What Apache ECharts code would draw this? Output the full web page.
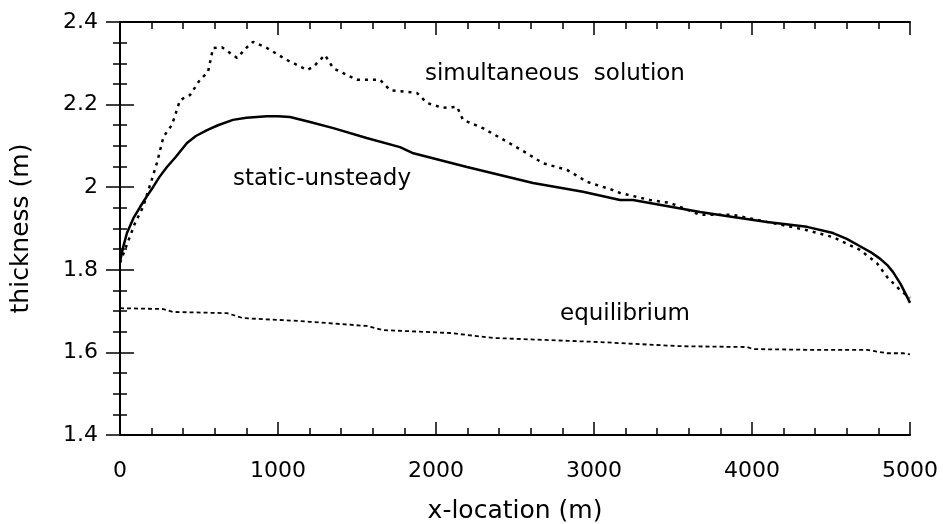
<!DOCTYPE html>
<html>
<head>
<meta charset="utf-8">
<script src="https://cdn.jsdelivr.net/npm/echarts@6/dist/echarts.min.js"></script>
<style>
  html, body { margin: 0; padding: 0; background: #fff; }
  #chart { width: 943px; height: 524px; }
</style>
</head>
<body>
<div id="chart"></div>
<script>
// x-location (m), thickness (m)
const simultaneousX = [0, 95, 146, 200, 234, 275, 329, 380, 443, 506, 557, 589, 645, 741, 804, 842, 930, 1057, 1184, 1222, 1297, 1350, 1500, 1646, 1709, 1816, 1880, 1943, 2044, 2133, 2171, 2297, 2449, 2576, 2677, 2829, 2956, 3120, 3165, 3354, 3481, 3671, 3880, 4095, 4348, 4513, 4684, 4791, 4854, 4937, 5000]
const simultaneousY = [1.817, 1.913, 1.952, 2.017, 2.059, 2.122, 2.151, 2.211, 2.223, 2.260, 2.279, 2.337, 2.339, 2.313, 2.339, 2.352, 2.337, 2.308, 2.284, 2.291, 2.320, 2.288, 2.260, 2.260, 2.235, 2.231, 2.228, 2.204, 2.192, 2.195, 2.163, 2.143, 2.110, 2.082, 2.058, 2.042, 2.013, 1.993, 1.986, 1.969, 1.962, 1.933, 1.933, 1.916, 1.896, 1.879, 1.848, 1.816, 1.783, 1.751, 1.732]

const staticX = [0, 20, 44, 85, 127, 170, 209, 250, 297, 350, 424, 480, 551, 620, 715, 800, 930, 1000, 1076, 1203, 1350, 1561, 1772, 1857, 2196, 2614, 2930, 3165, 3247, 3671, 3880, 4095, 4348, 4513, 4600, 4684, 4750, 4810, 4860, 4892, 4940, 4981, 5000]
const staticY = [1.819, 1.855, 1.889, 1.925, 1.952, 1.978, 2.000, 2.025, 2.049, 2.072, 2.107, 2.124, 2.138, 2.150, 2.163, 2.168, 2.172, 2.172, 2.170, 2.158, 2.143, 2.119, 2.097, 2.082, 2.049, 2.010, 1.989, 1.969, 1.969, 1.940, 1.928, 1.916, 1.904, 1.889, 1.875, 1.857, 1.843, 1.827, 1.810, 1.795, 1.766, 1.735, 1.720]

const equilibriumX = [0, 275, 335, 677, 779, 1139, 1203, 1561, 1665, 2089, 2361, 3038, 3544, 3968, 4006, 4411, 4728, 4854, 4956, 5000]
const equilibriumY = [1.707, 1.705, 1.698, 1.695, 1.683, 1.676, 1.674, 1.664, 1.654, 1.647, 1.635, 1.625, 1.615, 1.613, 1.608, 1.606, 1.606, 1.598, 1.598, 1.595]

const pairs = (xs, ys) => xs.map((x, i) => [x, ys[i]])

const font = 'DejaVu Sans'
const tickStyle = { color: '#000', fontSize: 22, fontFamily: font }
const nameStyle = { color: '#000', fontSize: 25, fontFamily: font }
const noteFont = '23px "DejaVu Sans"'

const chart = echarts.init(document.getElementById('chart'))

const baseX = {
  type: 'value',
  min: 0,
  max: 5000,
  interval: 1000,
  axisLine: { lineStyle: { color: '#000', width: 2 } },
  axisTick: { inside: true, length: 13, lineStyle: { color: '#000', width: 1.5 } },
  minorTick: { show: true, splitNumber: 5, length: 7, lineStyle: { color: '#000', width: 1.5 } },
  splitLine: { show: false }
}
const baseY = {
  type: 'value',
  min: 1.4,
  max: 2.4,
  interval: 0.2,
  axisLine: { lineStyle: { color: '#000', width: 2 } },
  axisTick: { inside: true, length: 14, lineStyle: { color: '#000', width: 1.5 } },
  minorTick: { show: true, splitNumber: 4, length: 7, lineStyle: { color: '#000', width: 1.5 } },
  splitLine: { show: false }
}

chart.setOption({
  animation: false,
  backgroundColor: '#fff',
  grid: { left: 120, right: 33, top: 22, bottom: 89, containLabel: false, outerBoundsMode: 'none' },
  xAxis: [
    Object.assign({}, baseX, {
      position: 'bottom',
      name: 'x-location (m)',
      nameLocation: 'middle',
      nameGap: 64,
      nameTextStyle: nameStyle,
      axisLabel: Object.assign({ margin: 25, formatter: v => String(v) }, tickStyle)
    }),
    Object.assign({}, baseX, { position: 'top', axisLabel: { show: false } })
  ],
  yAxis: [
    Object.assign({}, baseY, {
      position: 'left',
      name: 'thickness (m)',
      nameLocation: 'middle',
      nameGap: 86,
      nameTextStyle: nameStyle,
      axisLabel: Object.assign({ margin: 22 }, tickStyle)
    }),
    Object.assign({}, baseY, { position: 'right', axisLabel: { show: false } })
  ],
  series: [
    {
      name: 'simultaneous solution',
      type: 'line',
      data: pairs(simultaneousX, simultaneousY),
      showSymbol: false,
      lineStyle: { color: '#000', width: 2.5, type: [3, 5] }
    },
    {
      name: 'static-unsteady',
      type: 'line',
      data: pairs(staticX, staticY),
      showSymbol: false,
      lineStyle: { color: '#000', width: 2.5 }
    },
    {
      name: 'equilibrium',
      type: 'line',
      data: pairs(equilibriumX, equilibriumY),
      showSymbol: false,
      lineStyle: { color: '#000', width: 1.8, type: [4, 3] }
    }
  ],
  graphic: [
    { type: 'text', left: 425, top: 63, style: { text: 'simultaneous  solution', fill: '#000', font: noteFont } },
    { type: 'text', left: 233, top: 168, style: { text: 'static-unsteady', fill: '#000', font: noteFont } },
    { type: 'text', left: 560, top: 303, style: { text: 'equilibrium', fill: '#000', font: noteFont } }
  ]
})
</script>
</body>
</html>
